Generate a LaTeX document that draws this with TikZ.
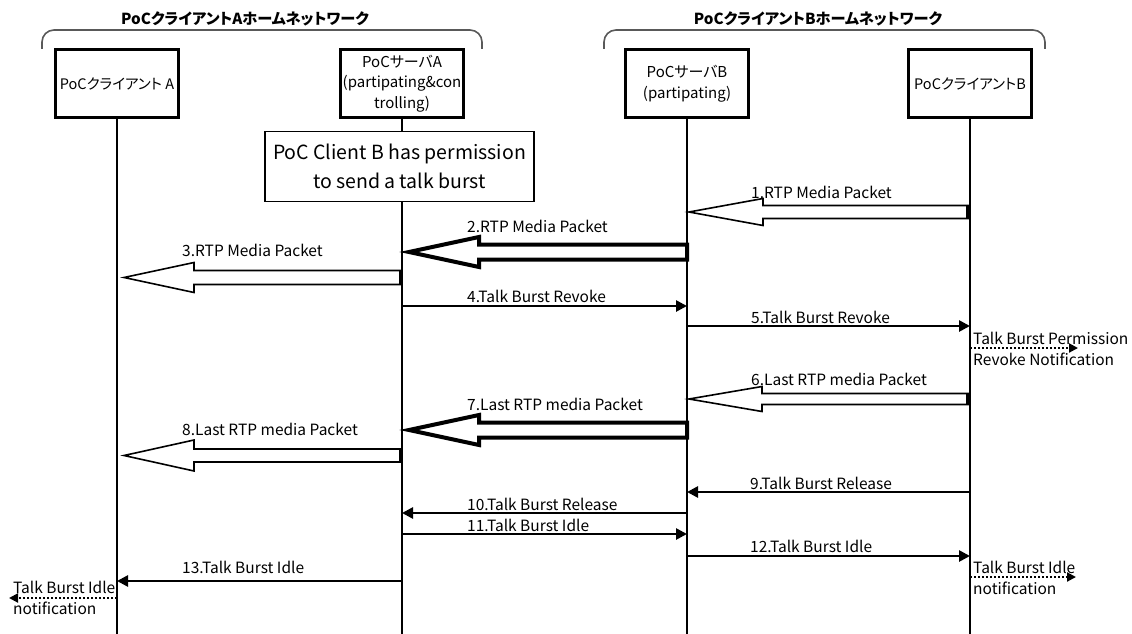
\documentclass[tikz,border=0pt]{standalone}
\usepackage{fontspec}
\setmainfont{Noto Sans CJK JP}[RawFeature=+palt]
\usetikzlibrary{arrows.meta}
\newcommand\hollowarr[7]{%
  \draw[#7] (#1,#3-#4) -- (#6,#3-#4) -- (#6,#3-#5) -- (#2,#3) -- (#6,#3+#5) -- (#6,#3+#4) -- (#1,#3+#4) -- cycle;}
\tikzset{
  ent/.style={draw, line width=3pt, minimum width=123pt, minimum height=67pt, align=center,
    font=\fontsize{15}{20.5}\selectfont, inner sep=0pt},
  entj/.style={ent, font=\fontsize{14.5}{18}\selectfont},
  life/.style={line width=1.5pt},
  msg/.style={line width=2.6pt, -{Triangle[length=11pt,width=11pt]}},
  lbl/.style={anchor=west, inner sep=0pt, font=\fontsize{15.5}{21}\selectfont},
  ntext/.style={anchor=west, align=left, inner sep=0pt, font=\fontsize{15.5}{21}\selectfont},
  dots/.style={line width=2pt, dotted, -{Triangle[length=9pt,width=9pt]}},
  hthin/.style={draw, line width=1.6pt, fill=white, line join=miter},
  hthick/.style={draw, line width=4pt, fill=white, line join=miter},
  tailedge/.style={line width=4pt},
  brace/.style={draw=black!65, line width=1.6pt, rounded corners=12pt},
  ttl/.style={font=\bfseries\fontsize{15.2}{18}\selectfont, inner sep=0pt}
}
\begin{document}
\begin{tikzpicture}[x=1pt,y=-1pt]
\fill[white] (0,0) rectangle (1132,634);
\useasboundingbox (0,0) rectangle (1132,634);

% titles and braces
\node[ttl] (tA) at (245,19) {PoCクライアントAホームネットワーク};
\node[ttl] (tB) at (818,19) {PoCクライアントBホームネットワーク};
\draw[brace] (42,49) -- (42,30) -- (482,30) -- (482,49);
\draw[brace] (604,49) -- (604,30) -- (1045,30) -- (1045,49);

% entities
\node[entj] (cA) at (117,83.5) {PoCクライアント A};
\node[ent] (sA) at (402,83.5) {PoCサーバA\\(partipating\&con\\trolling)};
\node[ent] (sB) at (687,83.5) {PoCサーバB\\(partipating)};
\node[entj] (cB) at (970,83.5) {PoCクライアントB};

% lifeline ends
\coordinate (cAe) at (117,634);
\coordinate (sAe) at (402,634);
\coordinate (sBe) at (687,634);
\coordinate (cBe) at (970,634);
\draw[life] (cA.south) -- (cAe);
\draw[life] (sA.south) -- (sAe);
\draw[life] (sB.south) -- (sBe);
\draw[life] (cB.south) -- (cBe);

% note
\node[draw, fill=white, line width=1.2pt, align=center, minimum width=269pt, minimum height=70pt,
  inner sep=0pt, font=\fontsize{19.5}{28.5}\selectfont] (nt) at (399.5,166.5)
  {PoC Client B has permission\\to send a talk burst};

% hollow arrows
\hollowarr{968}{689}{212}{6.5}{13.5}{763}{hthin}
\draw[tailedge] (968,205.5) -- (968,218.5);
\hollowarr{687}{409}{252}{7.5}{15}{479}{hthick}
\hollowarr{401}{124}{277.5}{7}{15}{194}{hthin}
\draw[tailedge] (401,270.5) -- (401,284.5);
\hollowarr{968}{689}{399}{5.5}{12.5}{762}{hthin}
\draw[tailedge] (968,393.5) -- (968,404.5);
\hollowarr{687}{409}{430}{7.5}{15}{479}{hthick}
\hollowarr{401}{124}{455.5}{6.5}{15.5}{194}{hthin}
\draw[tailedge] (401,449) -- (401,462);

% message coordinates
\coordinate (m4s) at (402,306); \coordinate (m4e) at (687,306);
\coordinate (m5s) at (687,326); \coordinate (m5e) at (970,326);
\coordinate (m9s) at (970,492); \coordinate (m9e) at (687,492);
\coordinate (m10s) at (687,513); \coordinate (m10e) at (402,513);
\coordinate (m11s) at (402,534); \coordinate (m11e) at (687,534);
\coordinate (m12s) at (687,556); \coordinate (m12e) at (970,556);
\coordinate (m13s) at (402,581); \coordinate (m13e) at (117,581);
\draw[msg] (m4s) -- (m4e);
\draw[msg] (m5s) -- (m5e);
\draw[msg] (m9s) -- (m9e);
\draw[msg] (m10s) -- (m10e);
\draw[msg] (m11s) -- (m11e);
\draw[msg] (m12s) -- (m12e);
\draw[msg] (m13s) -- (m13e);

% notifications
\coordinate (n1s) at (970,348); \coordinate (n1e) at (1078,348);
\coordinate (n2s) at (970,577); \coordinate (n2e) at (1076,577);
\coordinate (n3s) at (117,598); \coordinate (n3e) at (9,598);
\draw[dots] (n1s) -- (n1e);
\draw[dots] (n2s) -- (n2e);
\draw[dots] (n3s) -- (n3e);
\node[ntext] (nt1) at (973,348.5) {Talk Burst Permission\\Revoke Notification};
\node[ntext] (nt2) at (973,577.5) {Talk Burst Idle\\notification};
\node[ntext] (nt3) at (13,598) {Talk Burst Idle\\notification};

% labels
\node[lbl] (l1) at (751,192) {1.RTP Media Packet};
\node[lbl] (l2) at (467,226) {2.RTP Media Packet};
\node[lbl] (l3) at (182,250) {3.RTP Media Packet};
\node[lbl] (l4) at (467,296) {4.Talk Burst Revoke};
\node[lbl] (l5) at (751,317) {5.Talk Burst Revoke};
\node[lbl] (l6) at (751,379) {6.Last RTP media Packet};
\node[lbl] (l7) at (467,404) {7.Last RTP media Packet};
\node[lbl] (l8) at (182,429) {8.Last RTP media Packet};
\node[lbl] (l9) at (750,483) {9.Talk Burst Release};
\node[lbl] (l10) at (467,504) {10.Talk Burst Release};
\node[lbl] (l11) at (467,525) {11.Talk Burst Idle};
\node[lbl] (l12) at (750,546) {12.Talk Burst Idle};
\node[lbl] (l13) at (182,567) {13.Talk Burst Idle};
\end{tikzpicture}
\end{document}
